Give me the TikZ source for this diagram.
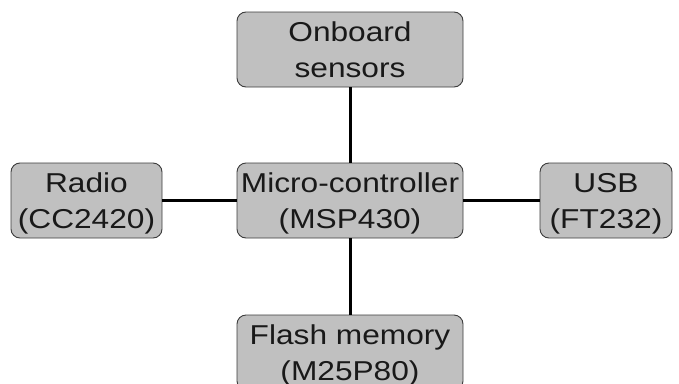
\documentclass[tikz,border=0pt]{standalone}
\usepackage{fontspec}
\setmainfont{Liberation Sans}[FakeStretch=1.16]
\definecolor{boxgray}{RGB}{192,192,192}
\definecolor{edgegray}{RGB}{60,60,60}
\definecolor{txt}{RGB}{25,25,25}
\newcommand{\topstrut}{\rule{0pt}{28pt}}
\newcommand{\botstrut}{\rule[-8pt]{0pt}{8pt}}
\begin{document}
\begin{tikzpicture}[x=1pt,y=-1pt,
  blk/.style={draw=edgegray, line width=0.9pt, fill=boxgray, rounded corners=9pt,
    minimum height=75pt, inner sep=0pt, align=center, text=txt,
    font=\fontsize{27.3}{36}\selectfont},
  conn/.style={draw=black, line width=3pt}]
\useasboundingbox (0,0) rectangle (679,383);
\clip (0,0) rectangle (679,383);
\fill[white] (0,0) rectangle (679,383);
\node[blk, minimum width=226pt] (top) at (350,49.5) {\topstrut Onboard\\sensors\botstrut};
\node[blk, minimum width=226pt] (mc) at (350,200.5) {\topstrut Micro-controller\\(MSP430)\botstrut};
\node[blk, minimum width=151pt] (radio) at (86.5,200.5) {\topstrut Radio\\(CC2420)\botstrut};
\node[blk, minimum width=132pt] (usb) at (606,200.5) {\topstrut USB\\(FT232)\botstrut};
\node[blk, minimum width=226pt] (flash) at (350,352.5) {\topstrut Flash memory\\(M25P80)\botstrut};
\draw[conn] (top) -- (mc);
\draw[conn] (radio) -- (mc);
\draw[conn] (mc) -- (usb);
\draw[conn] (mc) -- (flash);
\end{tikzpicture}
\end{document}
